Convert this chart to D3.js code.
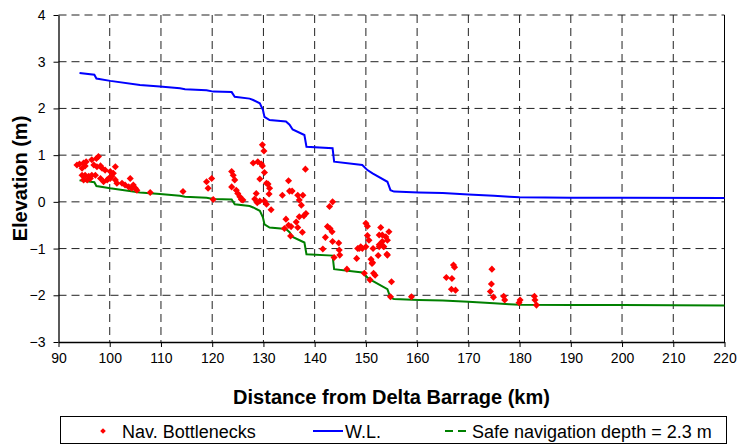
<!DOCTYPE html>
<html lang="en">
<head>
    <meta charset="UTF-8">
    <title>Elevation profile</title>
    <script src="https://cdn.jsdelivr.net/npm/d3@7"></script>
    <style>
        body { margin: 0; background: #fff; }
        text { font-family: "Liberation Sans", Arial, sans-serif; }
    </style>
</head>
<body>
    <div id="graph"></div>
    <script>
        // tick labels
        const xTickValues = [90, 100, 110, 120, 130, 140, 150, 160, 170, 180, 190, 200, 210, 220];
        const yTickValues = [-3, -2, -1, 0, 1, 2, 3, 4];

        // water level (W.L.)
        const wlKm = [94.1, 97.0, 97.4, 100.1, 105.9, 109.8, 113.7, 114.7, 118.9, 120.2, 123.8, 124.4, 127.3, 128.0,
            129.3, 129.9, 130.2, 131.2, 134.4, 135.1, 135.7, 138.0, 138.4, 143.5, 143.8, 149.3, 150.3, 151.3,
            154.2, 154.8, 155.5, 160.3, 165, 170, 175, 178, 180, 190, 200, 220];
        const wlElev = [2.76, 2.72, 2.64, 2.59, 2.50, 2.47, 2.43, 2.41, 2.39, 2.36, 2.35, 2.25, 2.21, 2.18,
            2.11, 1.97, 1.82, 1.75, 1.72, 1.65, 1.55, 1.43, 1.18, 1.15, 0.86, 0.79, 0.68, 0.61,
            0.43, 0.25, 0.22, 0.20, 0.19, 0.16, 0.13, 0.11, 0.10, 0.09, 0.09, 0.08];

        // safe navigation depth line
        const safeKm = wlKm;
        const safeElev = [0.46, 0.42, 0.34, 0.29, 0.20, 0.17, 0.13, 0.11, 0.09, 0.06, 0.05, -0.05, -0.09, -0.12,
            -0.19, -0.33, -0.48, -0.55, -0.58, -0.65, -0.75, -0.87, -1.12, -1.15, -1.44, -1.51, -1.62, -1.69,
            -1.87, -2.05, -2.08, -2.10, -2.11, -2.14, -2.17, -2.19, -2.20, -2.21, -2.21, -2.22];

        // navigation bottlenecks
        const bnKm = [93.6, 94.1, 94.9, 95.2, 94.6, 95.4, 96.5, 97.4, 97.8, 96.9, 97.5, 98.2, 98.5, 99.1, 100.1, 100.7,
            100.4, 99.8, 99.5, 98.8, 98.2, 97.2, 96.5, 95.9, 95.2, 94.6, 95.6, 96.2, 94.9, 100.1, 101.1, 101.4,
            102.4, 103.0, 104.0, 103.7, 104.3, 105.0, 105.3, 107.9, 114.3, 118.9, 119.2, 119.9, 120.2, 123.8,
            124.1, 124.4, 123.8, 124.7, 125.0, 125.4, 125.7, 128.0, 128.9, 101.1, 104.6, 129.8, 130.1, 129.6,
            130.2, 129.3, 130.9, 131.2, 131.1, 130.2, 128.6, 128.3, 129.3, 130.6, 131.5, 133.7, 134.9, 135.1,
            135.6, 136.7, 137.0, 137.4, 137.7, 138.2, 138.3, 137.9, 137.0, 136.4, 134.4, 134.1, 134.9, 135.4,
            136.7, 137.6, 126.0, 143.5, 142.9, 142.5, 143.0, 143.4, 142.1, 143.5, 144.7, 144.8, 144.9, 141.6,
            143.8, 146.3, 148.2, 148.4, 149.0, 150.0, 150.3, 150.3, 150.6, 150.0, 149.3, 151.4, 151.0, 151.2,
            149.7, 151.5, 151.8, 150.8, 152.9, 152.6, 153.2, 153.9, 154.5, 153.2, 154.2, 153.5, 152.6, 152.4,
            154.1, 155.0, 154.8, 158.9, 152.6, 153.4, 154.2, 148.7, 151.3, 167.1, 167.3, 165.7, 166.8, 166.7,
            167.5, 174.6, 174.5, 174.3, 174.9, 176.9, 177.1, 180.1, 179.9, 182.9, 183.0, 183.3, 129.8, 130.6,
            128.8, 135.3];
        const bnElev = [0.79, 0.81, 0.83, 0.77, 0.72, 0.86, 0.90, 0.93, 0.97, 0.79, 0.75, 0.77, 0.72, 0.68, 0.65, 0.61,
            0.55, 0.50, 0.47, 0.43, 0.50, 0.57, 0.57, 0.55, 0.57, 0.57, 0.47, 0.50, 0.47, 0.50, 0.47, 0.40,
            0.40, 0.36, 0.50, 0.32, 0.29, 0.29, 0.25, 0.20, 0.22, 0.43, 0.29, 0.50, 0.05, 0.65,
            0.57, 0.47, 0.32, 0.25, 0.18, 0.11, 0.05, 0.83, 0.86, 0.75, 0.36, 1.22, 1.09, 0.81,
            0.63, 0.49, 0.38, 0.29, 0.17, 0.02, 0.18, 0.06, 0.02, -0.05, -0.17, 0.14, 0.45, 0.23,
            0.23, 0.14, 0.04, -0.07, 0.14, 0.70, -0.25, -0.30, -0.32, -0.43, -0.37, -0.57, -0.50, -0.53,
            -0.55, -0.65, 0.04, 0.00, -0.10, -0.53, -0.57, -0.64, -0.76, -0.85, -0.88, -1.03, -1.14, -1.01,
            -1.19, -1.44, -1.21, -1.00, -0.96, -0.46, -0.52, -0.72, -0.82, -0.96, -1.00, -1.00, -1.23, -1.32,
            -1.53, -1.53, -1.57, -1.67, -0.55, -0.71, -0.71, -0.75, -0.64, -0.85, -0.82, -0.96, -0.96, -1.15,
            -1.12, -1.71, -2.03, -2.03, -0.92, -0.95, -1.14, -1.00, -1.30, -1.35, -1.40, -1.62, -1.64, -1.87,
            -1.89, -1.44, -1.76, -1.92, -2.04, -2.02, -2.10, -2.10, -2.16, -2.02, -2.10, -2.21, 0.77, 0.40,
            -0.02, -0.73];

        const W = 738, H = 446;
        const margin = {top: 15, right: 13.5, bottom: 104, left: 58.5};
        const width = W - margin.left - margin.right,
            height = H - margin.top - margin.bottom;

        const svg = d3.select("#graph")
            .append("svg")
            .attr("width", W)
            .attr("height", H);

        const g = svg.append("g")
            .attr("transform", `translate(${margin.left},${margin.top})`);

        const x = d3.scaleLinear().domain([90, 220]).range([0, width]);
        const y = d3.scaleLinear().domain([-3, 4]).range([height, 0]);

        // dashed grid
        g.append("g")
            .selectAll("line")
            .data(xTickValues.filter(d => d > 90 && d < 220))
            .join("line")
            .attr("x1", d => x(d)).attr("x2", d => x(d))
            .attr("y1", 0).attr("y2", height)
            .attr("stroke", "#222").attr("stroke-dasharray", "8,5");
        g.append("g")
            .selectAll("line")
            .data(yTickValues.filter(d => d > -3))
            .join("line")
            .attr("x1", 0).attr("x2", width)
            .attr("y1", d => y(d)).attr("y2", d => y(d))
            .attr("stroke", "#222").attr("stroke-dasharray", "8,5");

        // right border
        g.append("line")
            .attr("x1", width).attr("x2", width)
            .attr("y1", 0).attr("y2", height)
            .attr("stroke", "#000");

        // axes
        const xAxis = g.append("g")
            .attr("transform", `translate(0,${height})`)
            .call(d3.axisBottom(x).tickValues(xTickValues).tickSize(5).tickSizeOuter(0));
        const yAxis = g.append("g")
            .call(d3.axisLeft(y).tickValues(yTickValues).tickFormat(d3.format("d")).tickSize(5).tickSizeOuter(0));
        [xAxis, yAxis].forEach(a => {
            a.select(".domain").attr("stroke", "#000").attr("stroke-width", 1.3);
            a.selectAll(".tick line").attr("stroke", "#000");
            a.selectAll(".tick text").attr("font-size", 14).attr("fill", "#000")
                .attr("font-family", "'Liberation Sans', Arial, sans-serif");
        });
        xAxis.selectAll(".tick text").attr("dy", "0.9em");
        yAxis.selectAll(".tick text").attr("dx", "-5");

        // lines
        const line = d3.line().x(d => x(d[0])).y(d => y(d[1]));
        g.append("path")
            .datum(safeKm.map((k, i) => [k, safeElev[i]]))
            .attr("d", line)
            .attr("fill", "none").attr("stroke", "#008000").attr("stroke-width", 2);
        g.append("path")
            .datum(wlKm.map((k, i) => [k, wlElev[i]]))
            .attr("d", line)
            .attr("fill", "none").attr("stroke", "#0000ff").attr("stroke-width", 2);

        // bottleneck markers
        const diamond = d3.symbol().type(d3.symbolSquare).size(25);
        g.append("g")
            .selectAll("path")
            .data(bnKm.map((k, i) => [k, bnElev[i]]))
            .join("path")
            .attr("d", diamond)
            .attr("transform", d => `translate(${x(d[0])},${y(d[1])}) rotate(45)`)
            .attr("fill", "#ff0000");

        // axis titles
        svg.append("text")
            .attr("x", margin.left + width / 2).attr("y", 404)
            .attr("text-anchor", "middle")
            .attr("font-size", 20).attr("font-weight", "bold")
            .text("Distance from Delta Barrage (km)");
        svg.append("text")
            .attr("transform", `translate(27,${margin.top + height / 2}) rotate(-90)`)
            .attr("text-anchor", "middle")
            .attr("font-size", 20).attr("font-weight", "bold")
            .text("Elevation (m)");

        // legend
        const lg = svg.append("g");
        lg.append("rect")
            .attr("x", 60.5).attr("y", 416.5).attr("width", 666).attr("height", 27)
            .attr("fill", "#fff").attr("stroke", "#000");
        lg.append("path")
            .attr("d", d3.symbol().type(d3.symbolSquare).size(16))
            .attr("transform", "translate(103,431) rotate(45)")
            .attr("fill", "#ff0000");
        lg.append("text").attr("x", 122).attr("y", 437.5).attr("font-size", 18).text("Nav. Bottlenecks");
        lg.append("line").attr("x1", 313).attr("x2", 343).attr("y1", 431).attr("y2", 431)
            .attr("stroke", "#0000ff").attr("stroke-width", 2);
        lg.append("text").attr("x", 345).attr("y", 437.5).attr("font-size", 18).text("W.L.");
        lg.append("line").attr("x1", 445).attr("x2", 467).attr("y1", 431).attr("y2", 431)
            .attr("stroke", "#008000").attr("stroke-width", 2).attr("stroke-dasharray", "8,5");
        lg.append("text").attr("x", 472).attr("y", 437.5).attr("font-size", 18).text("Safe navigation depth = 2.3 m");
    </script>
</body>
</html>
